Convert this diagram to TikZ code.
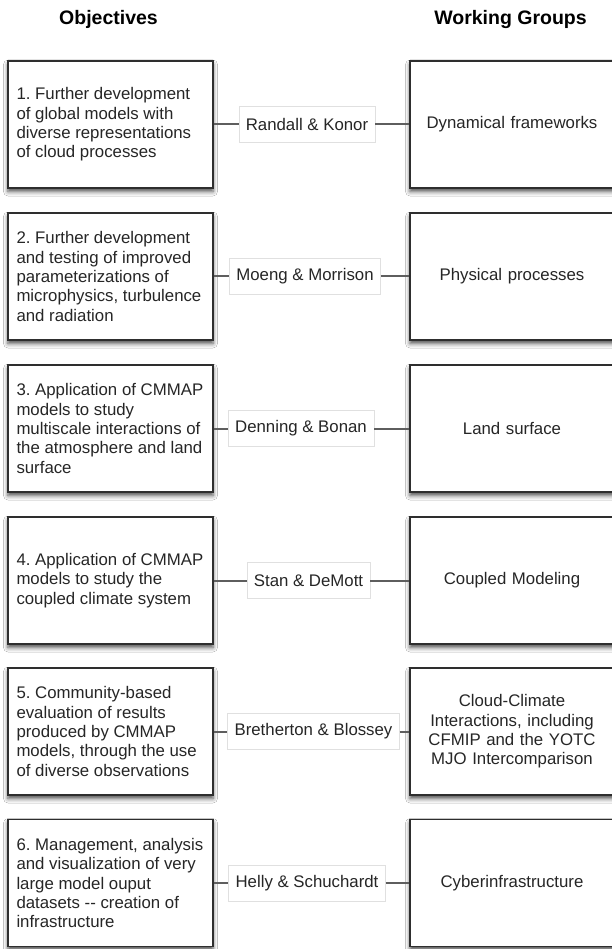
\documentclass[tikz,border=0pt]{standalone}
\usepackage{fontspec}
\setmainfont{Liberation Sans}
\usetikzlibrary{shadows.blur}
\definecolor{boxline}{HTML}{2E2E2E}
\definecolor{connline}{HTML}{5E5E5E}
\definecolor{lablineC}{HTML}{E0E0E0}
\frenchspacing
\begin{document}
\begin{tikzpicture}[x=1pt,y=-1pt,
  txt/.style={font=\fontsize{16.8}{19.3}\selectfont,text=black!85},
  boxbase/.style={draw=boxline,line width=1.4pt,fill=white,rectangle,inner sep=0pt,
    minimum height=127pt,
    blur shadow={shadow xshift=0pt,shadow yshift=-3.5pt,shadow blur radius=4.5pt,shadow opacity=70}},
  objbox/.style={boxbase,minimum width=205pt},
  objtext/.style={txt,anchor=west,align=left,inner sep=0pt},
  wgbox/.style={boxbase,txt,minimum width=204pt,text width=200pt,align=center},
  leadbox/.style={txt,draw=lablineC,line width=0.6pt,fill=white,rectangle,inner xsep=7pt,inner ysep=0pt,minimum height=36pt},
  conn/.style={draw=connline,line width=2pt},
  head/.style={font=\fontsize{19.5}{22}\selectfont\bfseries,anchor=base}
  ]
\useasboundingbox (0,0) rectangle (612,949);
\clip (0,0) rectangle (612,949);
\fill[white] (0,0) rectangle (612,949);

\node[head] (hobj) at (108.5,25) {Objectives};
\node[head] (hwg) at (510.5,25) {Working Groups};

% row centers: 124.5, 276.5, 428.5, 580.5, 731.5, 883
\node[objbox] (L1) at (110.5,124.5) {};
\node[objbox] (L2) at (110.5,276.5) {};
\node[objbox] (L3) at (110.5,428.5) {};
\node[objbox] (L4) at (110.5,580.5) {};
\node[objbox] (L5) at (110.5,731.5) {};
\node[objbox] (L6) at (110.5,883) {};

\node[objtext] (T1) at ([xshift=9pt]L1.west) {1. Further development\\of global models with\\diverse representations\\of cloud processes};
\node[objtext] (T2) at ([xshift=9pt]L2.west) {2. Further development\\and testing of improved\\parameterizations of\\microphysics, turbulence\\and radiation};
\node[objtext] (T3) at ([xshift=9pt]L3.west) {3. Application of CMMAP\\models to study\\multiscale interactions of\\the atmosphere and land\\surface};
\node[objtext] (T4) at ([xshift=9pt]L4.west) {4. Application of CMMAP\\models to study the\\coupled climate system};
\node[objtext] (T5) at ([xshift=9pt]L5.west) {5. Community-based\\evaluation of results\\produced by CMMAP\\models, through the use\\of diverse observations};
\node[objtext] (T6) at ([xshift=9pt]L6.west) {6. Management, analysis\\and visualization of very\\large model ouput\\datasets {-}{-} creation of\\infrastructure};

\node[wgbox] (R1) at (512,124.5) {Dynamical frameworks};
\node[wgbox] (R2) at (512,276.5) {Physical processes};
\node[wgbox] (R3) at (512,428.5) {Land surface};
\node[wgbox] (R4) at (512,580.5) {Coupled Modeling};
\node[wgbox] (R5) at (512,731.5) {Cloud-Climate\\Interactions, including\\CFMIP and the YOTC\\MJO Intercomparison};
\node[wgbox] (R6) at (512,883) {Cyberinfrastructure};

\node[leadbox] (M1) at (307,124.5) {Randall \& Konor};
\node[leadbox] (M2) at (305,276.5) {Moeng \& Morrison};
\node[leadbox] (M3) at (301,428.5) {Denning \& Bonan};
\node[leadbox] (M4) at (308.5,580.5) {Stan \& DeMott};
\node[leadbox] (M5) at (313.5,731.5) {Bretherton \& Blossey};
\node[leadbox] (M6) at (307,883) {Helly \& Schuchardt};

\foreach \i in {1,...,6}{
  \draw[conn] (L\i.east) -- (M\i.west);
  \draw[conn] (M\i.east) -- (R\i.west);
}
\end{tikzpicture}
\end{document}
